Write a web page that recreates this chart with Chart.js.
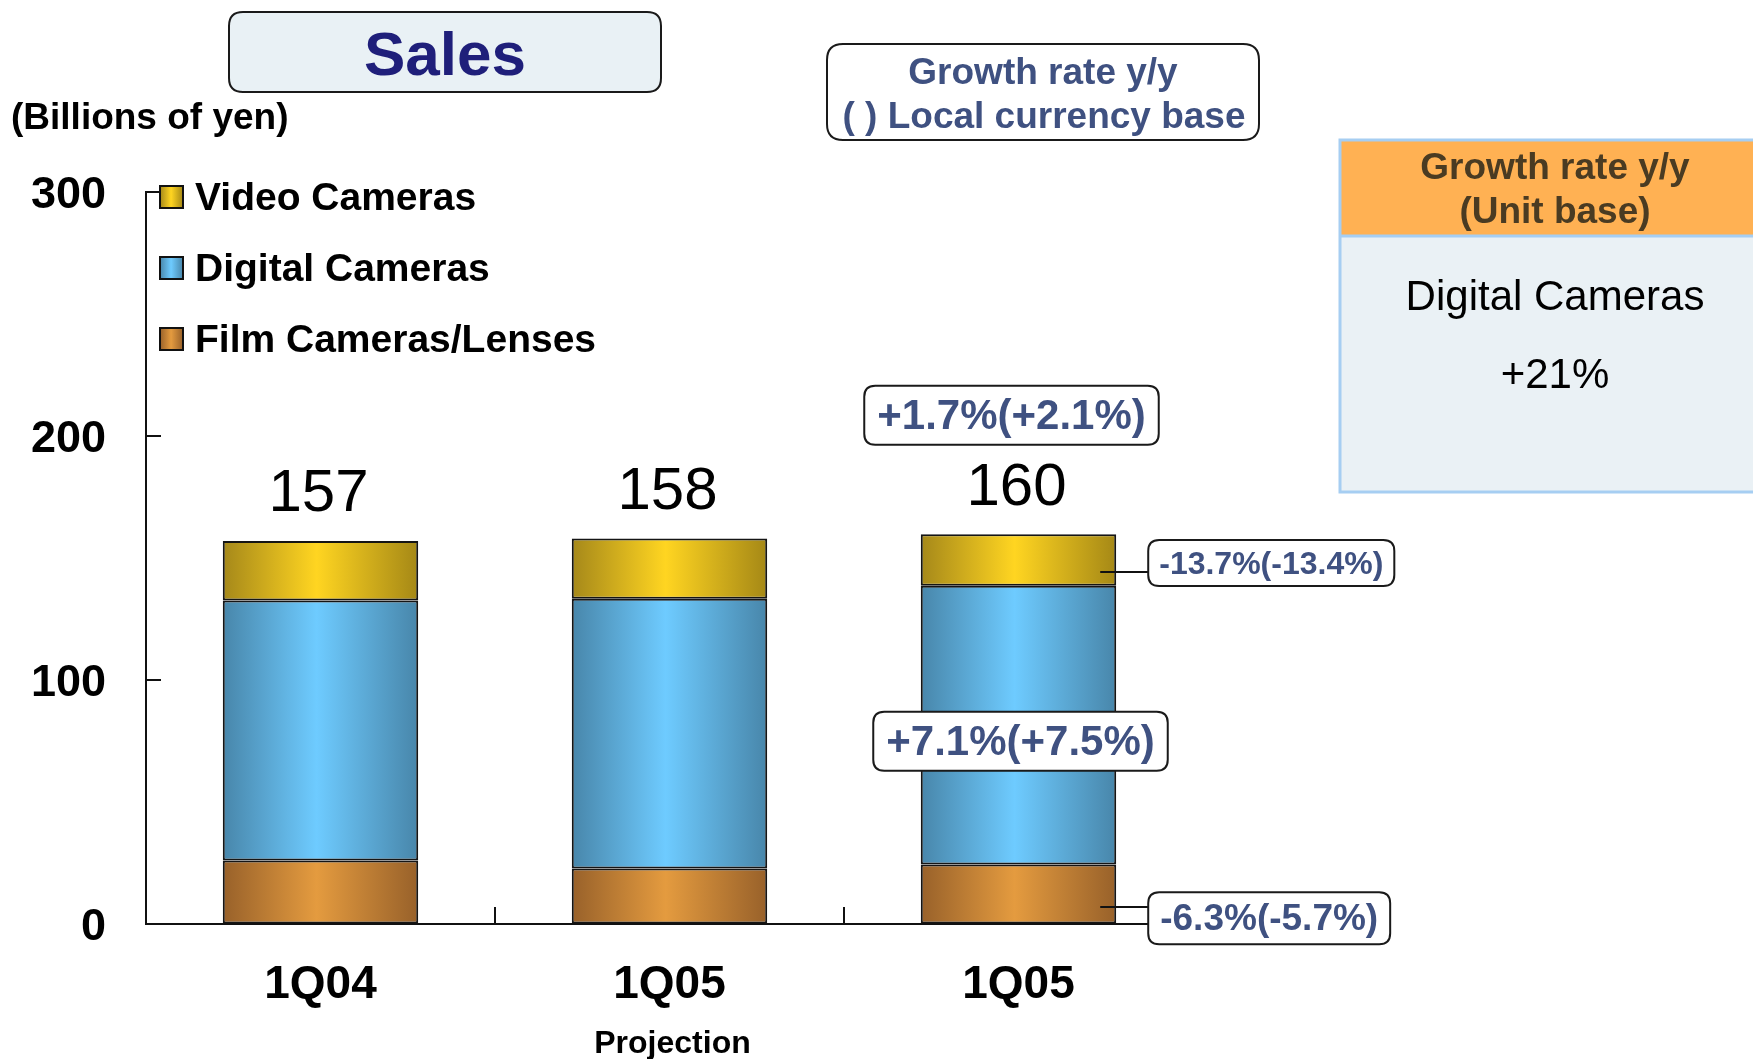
<!DOCTYPE html>
<html><head><meta charset="utf-8">
<script src="https://cdn.jsdelivr.net/npm/chart.js@4.4.1/dist/chart.umd.min.js"></script>
<style>html,body{margin:0;padding:0;background:#fff;overflow:hidden}canvas{display:block}</style>
</head><body>
<canvas id="c" width="1753" height="1059"></canvas>
<script>
// ---- data ----
const categories = ['1Q04', '1Q05', '1Q05'];
const categorySubLabels = ['', 'Projection', ''];
const filmCameras = [26.0, 22.7, 24.4];
const digitalCameras = [106.6, 110.6, 114.2];
const videoCameras = [24.4, 24.7, 21.1];
const totalLabels = ['157', '158', '160'];
const yTicks = [0, 100, 200, 300];
const seriesNames = ['Film Cameras/Lenses', 'Digital Cameras', 'Video Cameras'];
const growthTotal = '+1.7%(+2.1%)';
const growthDigital = '+7.1%(+7.5%)';
const growthVideo = '-13.7%(-13.4%)';
const growthFilm = '-6.3%(-5.7%)';
const titleText = 'Sales';
const unitText = '(Billions of yen)';
const growthLegendLines = ['Growth rate y/y', '( ) Local currency base'];
const unitPanelHeader = ['Growth rate y/y', '(Unit base)'];
const unitPanelItem = 'Digital Cameras';
const unitPanelValue = '+21%';

// ---- styles ----
const FONT = '"Liberation Sans", Arial, Helvetica, sans-serif';
const BAR_PCT = 0.56;
const SLATE = '#3F5181';
const stops = {
  film:    [[0, '#98612A'], [0.48, '#E49B3F'], [1, '#98612A']],
  digital: [[0, '#4886AA'], [0.48, '#6ECBFF'], [1, '#4886AA']],
  video:   [[0, '#A5881A'], [0.48, '#FFD521'], [1, '#A58816']]
};

function barGradient(ctx, st) {
  const chart = ctx.chart, xs = chart.scales.x;
  if (!xs || !chart.chartArea) return st[1][1];
  const c = xs.getPixelForValue(ctx.dataIndex);
  const w = (xs.width / categories.length) * BAR_PCT;
  const g = chart.ctx.createLinearGradient(c - w / 2, 0, c + w / 2, 0);
  st.forEach(s => g.addColorStop(s[0], s[1]));
  return g;
}

function rrect(ctx, x, y, w, h, r) {
  ctx.beginPath();
  ctx.moveTo(x + r, y);
  ctx.lineTo(x + w - r, y); ctx.quadraticCurveTo(x + w, y, x + w, y + r);
  ctx.lineTo(x + w, y + h - r); ctx.quadraticCurveTo(x + w, y + h, x + w - r, y + h);
  ctx.lineTo(x + r, y + h); ctx.quadraticCurveTo(x, y + h, x, y + h - r);
  ctx.lineTo(x, y + r); ctx.quadraticCurveTo(x, y, x + r, y);
  ctx.closePath();
}

function labelBox(ctx, text, font, x, cy, padX, h, align) {
  ctx.font = font;
  const tw = ctx.measureText(text).width;
  const w = tw + padX * 2;
  const left = align === 'center' ? x - w / 2 : x;
  rrect(ctx, left, cy - h / 2, w, h, 11);
  ctx.fillStyle = '#fff'; ctx.fill();
  ctx.lineWidth = 2; ctx.strokeStyle = '#1a1a1a'; ctx.stroke();
  ctx.fillStyle = SLATE; ctx.textAlign = 'center'; ctx.textBaseline = 'middle';
  ctx.fillText(text, left + w / 2, cy + 2);
}

const decorPlugin = {
  id: 'decor',
  afterDraw(chart) {
    const ctx = chart.ctx, xs = chart.scales.x, ys = chart.scales.y, ca = chart.chartArea;
    const catW = xs.width / categories.length;
    const barW = catW * BAR_PCT;
    ctx.save();
    // inward ticks on y axis
    ctx.strokeStyle = '#111'; ctx.lineWidth = 2;
    yTicks.forEach(v => {
      if (v === 0) return;
      const y = Math.round(ys.getPixelForValue(v));
      ctx.beginPath(); ctx.moveTo(ca.left, y); ctx.lineTo(ca.left + 15, y); ctx.stroke();
    });
    // x axis category boundary ticks
    for (let i = 1; i <= categories.length; i++) {
      const x = Math.round(xs.getPixelForValue(i) - catW / 2);
      ctx.beginPath(); ctx.moveTo(x, ca.bottom); ctx.lineTo(x, ca.bottom - 17); ctx.stroke();
    }
    // sub labels
    ctx.fillStyle = '#000'; ctx.textAlign = 'center'; ctx.textBaseline = 'middle';
    ctx.font = 'bold 32px ' + FONT;
    categorySubLabels.forEach((t, i) => { if (t) ctx.fillText(t, xs.getPixelForValue(i) + 3, 1044); });
    // totals
    ctx.font = '60px ' + FONT;
    totalLabels.forEach((t, i) => {
      const tot = filmCameras[i] + digitalCameras[i] + videoCameras[i];
      ctx.fillText(t, xs.getPixelForValue(i) - 2, ys.getPixelForValue(tot) - 46);
    });
    // legend (top item = last dataset)
    const ds = chart.data.datasets;
    const legendKeys = ['film', 'digital', 'video'];
    [2, 1, 0].forEach((di, k) => {
      const cy = ca.top + 5 + k * 71;
      const g = ctx.createLinearGradient(160, 0, 183, 0);
      stops[legendKeys[di]].forEach(s => g.addColorStop(s[0], s[1]));
      ctx.fillStyle = g; ctx.fillRect(160, cy - 11, 23, 22);
      ctx.lineWidth = 2; ctx.strokeStyle = '#111'; ctx.strokeRect(160, cy - 11, 23, 22);
      ctx.fillStyle = '#000'; ctx.textAlign = 'left'; ctx.textBaseline = 'middle';
      ctx.font = 'bold 39px ' + FONT;
      ctx.fillText(ds[di].label, 195, cy + 2);
    });
    // growth annotations for the last bar
    const li = categories.length - 1;
    const cx = xs.getPixelForValue(li);
    const right = cx + barW / 2;
    const totL = filmCameras[li] + digitalCameras[li] + videoCameras[li];
    labelBox(ctx, growthTotal, 'bold 42px ' + FONT, cx - 7, ys.getPixelForValue(totL) - 119, 13, 59, 'center');
    const digMid = ys.getPixelForValue(filmCameras[li] + digitalCameras[li] / 2) + 16;
    labelBox(ctx, growthDigital, 'bold 42px ' + FONT, cx + 2, digMid, 13, 59, 'center');
    // connectors
    const vidY = ys.getPixelForValue(filmCameras[li] + digitalCameras[li] + videoCameras[li] / 2) + 12;
    const filmY = ys.getPixelForValue(filmCameras[li] / 2) + 13;
    ctx.strokeStyle = '#111'; ctx.lineWidth = 2;
    [vidY, filmY].forEach(y => {
      ctx.beginPath(); ctx.moveTo(right - 16, Math.round(y)); ctx.lineTo(right + 32, Math.round(y)); ctx.stroke();
    });
    labelBox(ctx, growthVideo, 'bold 32px ' + FONT, right + 32, vidY - 9, 11, 46, 'left');
    labelBox(ctx, growthFilm, 'bold 37px ' + FONT, right + 32, filmY + 11, 12, 52, 'left');

    // title box
    rrect(ctx, 229, 12, 432, 80, 14);
    ctx.fillStyle = '#E9F1F5'; ctx.fill();
    ctx.lineWidth = 2; ctx.strokeStyle = '#1a1a1a'; ctx.stroke();
    ctx.fillStyle = '#1F1F7A'; ctx.textAlign = 'center'; ctx.textBaseline = 'middle';
    ctx.font = 'bold 62px ' + FONT; ctx.fillText(titleText, 445, 58);
    // unit text
    ctx.fillStyle = '#000'; ctx.textAlign = 'left';
    ctx.font = 'bold 37px ' + FONT; ctx.fillText(unitText, 11, 119);
    // growth legend box
    rrect(ctx, 827, 44, 432, 96, 16);
    ctx.fillStyle = '#fff'; ctx.fill(); ctx.stroke();
    ctx.fillStyle = SLATE; ctx.textAlign = 'center';
    ctx.font = 'bold 37px ' + FONT;
    ctx.fillText(growthLegendLines[0], 1043, 74);
    ctx.fillText(growthLegendLines[1], 1044, 118);
    // right unit panel
    ctx.fillStyle = '#FFB153'; ctx.fillRect(1340, 140, 440, 96);
    ctx.fillStyle = '#EAF1F5'; ctx.fillRect(1340, 236, 440, 256);
    ctx.strokeStyle = '#A6CEF2'; ctx.lineWidth = 3;
    ctx.strokeRect(1340, 140, 440, 352);
    ctx.beginPath(); ctx.moveTo(1340, 236); ctx.lineTo(1780, 236); ctx.stroke();
    ctx.fillStyle = '#4A3B22'; ctx.font = 'bold 37px ' + FONT;
    ctx.fillText(unitPanelHeader[0], 1555, 169);
    ctx.fillText(unitPanelHeader[1], 1555, 213);
    ctx.fillStyle = '#000'; ctx.font = '42px ' + FONT;
    ctx.fillText(unitPanelItem, 1555, 298);
    ctx.fillText(unitPanelValue, 1555, 376);
    ctx.restore();
  }
};

const common = { borderColor: '#151515', borderWidth: 2, borderSkipped: false,
  barPercentage: BAR_PCT, categoryPercentage: 1.0 };

new Chart(document.getElementById('c'), {
  type: 'bar',
  data: {
    labels: categories,
    datasets: [
      Object.assign({ label: seriesNames[0], data: filmCameras, backgroundColor: c => barGradient(c, stops.film) }, common),
      Object.assign({ label: seriesNames[1], data: digitalCameras, backgroundColor: c => barGradient(c, stops.digital) }, common),
      Object.assign({ label: seriesNames[2], data: videoCameras, backgroundColor: c => barGradient(c, stops.video) }, common)
    ]
  },
  options: {
    responsive: false, animation: false, devicePixelRatio: 1,
    layout: { padding: { left: 0, top: 192, right: 560, bottom: 0 } },
    plugins: { legend: { display: false }, tooltip: { enabled: false } },
    scales: {
      x: {
        stacked: true,
        grid: { display: true, drawOnChartArea: false, drawTicks: false, color: 'rgba(0,0,0,0)' },
        border: { display: true, color: '#111', width: 2 },
        ticks: { color: '#000', padding: 34, font: { family: FONT, size: 46, weight: 'bold' } },
        afterFit: s => { s.height = 135; }
      },
      y: {
        stacked: true, min: 0, max: 300,
        afterBuildTicks: s => { s.ticks = yTicks.map(v => ({ value: v })); },
        grid: { display: true, drawOnChartArea: false, drawTicks: false, color: 'rgba(0,0,0,0)' },
        border: { display: true, color: '#111', width: 2 },
        ticks: { color: '#000', padding: 40, labelOffset: 4, font: { family: FONT, size: 45, weight: 'bold' } },
        afterFit: s => { s.width = 146; }
      }
    }
  },
  plugins: [decorPlugin]
});
</script>
</body></html>
